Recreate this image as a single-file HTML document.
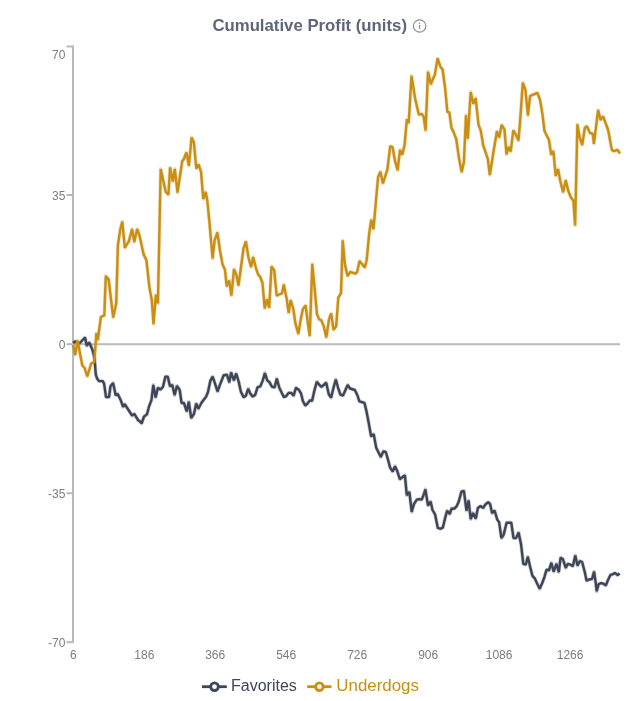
<!DOCTYPE html>
<html><head><meta charset="utf-8"><style>
html,body{margin:0;padding:0;background:#fff;width:640px;height:701px;overflow:hidden}
svg{display:block;will-change:transform}
text{font-family:"Liberation Sans",Arial,sans-serif}
</style></head><body>
<svg width="640" height="701" viewBox="0 0 640 701">
<text x="212.4" y="31" font-size="16.5" font-weight="bold" fill="#5d667a" textLength="194.6" lengthAdjust="spacingAndGlyphs">Cumulative Profit (units)</text>
<circle cx="419.6" cy="26" r="6.2" fill="none" stroke="#8e8e8e" stroke-width="1.15"/>
<rect x="418.9" y="24.9" width="1.3" height="4" fill="#8e8e8e"/>
<rect x="418.9" y="22.6" width="1.3" height="1.3" fill="#8e8e8e"/>
<g stroke="#b8b8b8" stroke-width="2">
<line x1="73" y1="45.5" x2="73" y2="643"/>
<line x1="66.5" y1="46.5" x2="73" y2="46.5"/><line x1="66.5" y1="195" x2="73" y2="195"/><line x1="66.5" y1="344.2" x2="73" y2="344.2"/><line x1="66.5" y1="493.2" x2="73" y2="493.2"/><line x1="66.5" y1="642.2" x2="73" y2="642.2"/>
</g>
<line x1="73" y1="344.2" x2="620" y2="344.2" stroke="#bababa" stroke-width="2"/>
<g font-size="12" fill="#7a7c84">
<text x="65.4" y="59" text-anchor="end">70</text>
<text x="65.4" y="199.8" text-anchor="end">35</text>
<text x="65.4" y="348.8" text-anchor="end">0</text>
<text x="65.4" y="497.8" text-anchor="end">-35</text>
<text x="65.4" y="646.8" text-anchor="end">-70</text>
<text x="73.3" y="658.6" text-anchor="middle">6</text>
<text x="144.3" y="658.6" text-anchor="middle">186</text>
<text x="215.2" y="658.6" text-anchor="middle">366</text>
<text x="286.2" y="658.6" text-anchor="middle">546</text>
<text x="357.2" y="658.6" text-anchor="middle">726</text>
<text x="428.2" y="658.6" text-anchor="middle">906</text>
<text x="499.1" y="658.6" text-anchor="middle">1086</text>
<text x="570.1" y="658.6" text-anchor="middle">1266</text>
</g>
<polyline points="73.3,343.0 75.4,341.3 77.7,343.8 80.1,342.7 85.0,337.5 86.8,345.8 89.2,342.4 90.6,345.5 92.6,350.3 94.5,358.0 95.8,374.7 97.1,378.5 99.0,381.1 102.8,381.1 104.1,383.7 106.0,397.1 109.0,397.1 110.5,386.2 113.1,383.0 115.7,395.2 117.6,393.9 120.8,400.3 123.1,406.8 124.7,404.2 128.5,410.0 132.1,415.7 134.3,413.8 138.1,420.2 139.7,421.1 141.7,423.4 144.0,416.5 145.4,415.6 147.0,414.2 149.1,406.3 151.5,399.8 153.3,384.9 155.6,397.5 157.9,387.7 160.3,389.6 163.0,386.8 165.4,376.6 167.7,376.6 170.0,386.3 172.3,385.0 174.6,395.1 177.0,385.9 179.7,390.0 181.6,403.0 183.9,403.0 186.7,411.4 188.8,401.8 191.2,418.0 194.0,413.8 196.2,403.6 198.4,408.7 201.5,402.7 206.1,396.6 208.0,392.0 210.3,380.9 212.6,376.7 214.9,383.2 217.5,391.5 220.0,384.6 223.7,375.3 227.0,374.8 229.3,382.3 231.1,372.5 233.9,380.4 236.2,373.5 238.6,381.3 240.9,391.8 243.6,397.1 245.9,395.7 248.2,388.8 250.5,393.9 252.8,396.6 255.2,394.8 257.5,387.4 260.3,386.4 262.6,380.9 264.9,373.0 267.2,380.4 269.5,382.3 272.1,386.9 274.6,387.4 276.8,378.6 279.3,387.8 281.6,392.5 283.9,397.1 286.2,396.2 288.6,392.9 291.2,392.9 293.6,395.7 295.9,387.8 298.7,389.7 301.0,393.4 302.8,400.8 305.2,405.5 307.5,403.6 309.8,400.4 312.1,400.8 314.4,390.6 316.8,381.8 319.1,384.6 321.4,386.9 323.7,385.0 326.2,382.7 328.8,394.3 331.1,397.6 333.5,387.8 335.8,379.5 338.1,387.8 340.4,394.6 343.0,395.5 347.7,385.0 350.1,388.5 354.8,390.0 357.3,395.0 359.4,401.4 364.4,402.8 366.5,411.4 368.7,422.8 371.1,436.3 373.7,434.2 376.2,447.7 378.7,452.7 380.8,457.0 383.4,451.3 385.8,452.0 387.9,459.3 390.1,467.6 392.7,471.5 395.0,466.3 397.2,470.8 399.8,479.2 402.3,477.2 404.9,475.3 406.8,495.2 409.4,492.0 411.7,511.9 413.9,504.2 416.8,499.7 419.0,499.1 421.6,499.7 423.5,495.2 425.4,489.4 428.0,505.5 430.6,501.6 432.5,510.0 435.1,514.5 437.8,527.9 440.6,528.8 442.9,527.4 445.2,517.7 447.1,510.7 449.7,514.0 451.7,508.4 454.0,508.9 456.8,506.1 458.9,501.0 461.4,491.7 463.9,490.8 466.5,510.7 468.6,500.5 470.7,519.1 473.0,513.0 475.8,518.6 477.9,507.9 480.5,506.1 483.2,507.9 485.6,504.2 488.2,502.2 490.1,504.1 492.1,513.1 494.6,510.5 497.2,519.5 499.1,522.1 501.4,538.1 503.6,534.9 506.6,522.7 508.8,522.7 511.3,522.7 513.5,538.1 516.1,538.1 518.6,532.4 521.0,543.9 523.3,563.8 525.8,564.5 527.8,556.8 530.2,567.0 532.4,575.8 534.6,578.1 537.0,583.2 539.7,588.8 542.1,583.2 544.4,577.2 546.5,569.8 549.0,570.3 551.3,562.8 553.7,571.6 556.4,563.8 558.8,572.1 560.6,557.7 562.9,559.1 565.7,567.9 567.8,563.8 570.4,564.7 572.9,566.1 575.3,555.4 577.5,565.6 579.9,561.0 582.1,562.0 584.7,571.7 586.6,580.7 589.0,579.5 592.1,578.8 594.1,571.7 595.7,582.7 596.7,591.3 598.6,584.2 600.8,583.1 603.1,583.5 605.9,585.4 608.2,579.5 610.6,574.8 612.5,574.4 614.9,572.9 617.6,575.2 619.6,573.3" fill="none" stroke="#3d4557" stroke-opacity="0.28" stroke-width="3.8" stroke-linejoin="round"/>
<polyline points="73.3,343.0 75.4,341.3 77.7,343.8 80.1,342.7 85.0,337.5 86.8,345.8 89.2,342.4 90.6,345.5 92.6,350.3 94.5,358.0 95.8,374.7 97.1,378.5 99.0,381.1 102.8,381.1 104.1,383.7 106.0,397.1 109.0,397.1 110.5,386.2 113.1,383.0 115.7,395.2 117.6,393.9 120.8,400.3 123.1,406.8 124.7,404.2 128.5,410.0 132.1,415.7 134.3,413.8 138.1,420.2 139.7,421.1 141.7,423.4 144.0,416.5 145.4,415.6 147.0,414.2 149.1,406.3 151.5,399.8 153.3,384.9 155.6,397.5 157.9,387.7 160.3,389.6 163.0,386.8 165.4,376.6 167.7,376.6 170.0,386.3 172.3,385.0 174.6,395.1 177.0,385.9 179.7,390.0 181.6,403.0 183.9,403.0 186.7,411.4 188.8,401.8 191.2,418.0 194.0,413.8 196.2,403.6 198.4,408.7 201.5,402.7 206.1,396.6 208.0,392.0 210.3,380.9 212.6,376.7 214.9,383.2 217.5,391.5 220.0,384.6 223.7,375.3 227.0,374.8 229.3,382.3 231.1,372.5 233.9,380.4 236.2,373.5 238.6,381.3 240.9,391.8 243.6,397.1 245.9,395.7 248.2,388.8 250.5,393.9 252.8,396.6 255.2,394.8 257.5,387.4 260.3,386.4 262.6,380.9 264.9,373.0 267.2,380.4 269.5,382.3 272.1,386.9 274.6,387.4 276.8,378.6 279.3,387.8 281.6,392.5 283.9,397.1 286.2,396.2 288.6,392.9 291.2,392.9 293.6,395.7 295.9,387.8 298.7,389.7 301.0,393.4 302.8,400.8 305.2,405.5 307.5,403.6 309.8,400.4 312.1,400.8 314.4,390.6 316.8,381.8 319.1,384.6 321.4,386.9 323.7,385.0 326.2,382.7 328.8,394.3 331.1,397.6 333.5,387.8 335.8,379.5 338.1,387.8 340.4,394.6 343.0,395.5 347.7,385.0 350.1,388.5 354.8,390.0 357.3,395.0 359.4,401.4 364.4,402.8 366.5,411.4 368.7,422.8 371.1,436.3 373.7,434.2 376.2,447.7 378.7,452.7 380.8,457.0 383.4,451.3 385.8,452.0 387.9,459.3 390.1,467.6 392.7,471.5 395.0,466.3 397.2,470.8 399.8,479.2 402.3,477.2 404.9,475.3 406.8,495.2 409.4,492.0 411.7,511.9 413.9,504.2 416.8,499.7 419.0,499.1 421.6,499.7 423.5,495.2 425.4,489.4 428.0,505.5 430.6,501.6 432.5,510.0 435.1,514.5 437.8,527.9 440.6,528.8 442.9,527.4 445.2,517.7 447.1,510.7 449.7,514.0 451.7,508.4 454.0,508.9 456.8,506.1 458.9,501.0 461.4,491.7 463.9,490.8 466.5,510.7 468.6,500.5 470.7,519.1 473.0,513.0 475.8,518.6 477.9,507.9 480.5,506.1 483.2,507.9 485.6,504.2 488.2,502.2 490.1,504.1 492.1,513.1 494.6,510.5 497.2,519.5 499.1,522.1 501.4,538.1 503.6,534.9 506.6,522.7 508.8,522.7 511.3,522.7 513.5,538.1 516.1,538.1 518.6,532.4 521.0,543.9 523.3,563.8 525.8,564.5 527.8,556.8 530.2,567.0 532.4,575.8 534.6,578.1 537.0,583.2 539.7,588.8 542.1,583.2 544.4,577.2 546.5,569.8 549.0,570.3 551.3,562.8 553.7,571.6 556.4,563.8 558.8,572.1 560.6,557.7 562.9,559.1 565.7,567.9 567.8,563.8 570.4,564.7 572.9,566.1 575.3,555.4 577.5,565.6 579.9,561.0 582.1,562.0 584.7,571.7 586.6,580.7 589.0,579.5 592.1,578.8 594.1,571.7 595.7,582.7 596.7,591.3 598.6,584.2 600.8,583.1 603.1,583.5 605.9,585.4 608.2,579.5 610.6,574.8 612.5,574.4 614.9,572.9 617.6,575.2 619.6,573.3" fill="none" stroke="#3d4557" stroke-width="2.4" stroke-linejoin="bevel"/>
<polyline points="73.2,345.0 75.2,355.0 77.6,340.5 80.5,356.0 82.3,365.5 84.6,368.0 87.3,376.4 91.2,363.5 94.3,362.0 96.4,333.2 97.8,340.2 100.9,317.0 102.7,316.0 104.3,315.5 105.8,276.0 108.6,279.5 113.2,317.5 116.2,303.6 117.9,245.3 120.2,229.8 122.3,221.6 124.8,247.8 128.9,241.2 132.1,229.0 134.3,242.0 137.1,229.0 139.5,235.5 143.6,254.4 146.4,260.1 149.4,287.2 151.8,300.3 153.5,324.1 155.9,294.6 157.9,303.6 160.7,168.9 165.7,191.7 168.4,194.8 170.1,167.4 172.8,181.5 174.8,168.9 177.5,192.5 182.2,161.1 183.7,159.5 186.4,152.5 188.9,165.8 191.6,137.4 193.9,142.5 196.3,168.6 198.6,164.5 201.0,171.6 203.3,199.0 205.7,192.0 207.3,200.6 209.6,224.0 212.6,258.5 214.6,240.7 217.4,232.5 220.0,250.7 222.5,264.2 225.0,269.9 226.7,286.3 229.2,280.6 231.4,295.6 234.0,269.2 236.4,274.9 238.5,285.6 243.5,248.5 245.9,241.4 248.5,257.8 251.1,267.1 253.1,257.1 255.9,267.8 258.1,274.5 260.2,277.0 262.5,283.0 264.7,308.4 267.0,299.4 269.2,307.6 271.5,266.5 274.2,270.2 276.7,295.7 279.7,294.2 282.0,293.4 283.8,284.4 286.5,297.9 288.7,312.9 290.6,300.2 293.2,308.4 295.4,323.4 298.4,333.9 300.7,319.6 302.9,309.1 305.6,305.4 307.7,321.9 309.7,336.0 312.3,263.8 314.7,289.4 317.0,314.1 319.2,319.4 321.2,320.1 323.7,326.1 326.3,337.4 329.0,319.4 331.2,313.4 333.5,329.9 336.2,326.1 338.3,297.7 341.0,293.2 342.7,240.3 344.9,264.3 347.5,276.0 350.2,272.0 353.0,272.8 355.5,273.7 357.2,271.8 359.5,261.0 362.2,264.2 364.8,267.5 366.7,260.0 369.2,233.5 371.3,219.8 373.5,229.2 376.1,199.2 378.1,177.0 380.4,171.8 382.9,183.5 387.4,169.4 390.2,146.2 392.6,147.2 394.8,160.1 397.6,170.3 400.0,150.0 402.3,154.6 404.5,145.3 406.9,119.3 408.7,123.1 411.5,75.8 415.2,98.9 418.9,114.7 421.7,113.8 423.6,116.6 425.6,130.6 428.0,71.7 430.8,84.3 433.0,78.7 434.8,75.0 437.6,58.3 440.4,66.7 442.6,69.5 445.0,87.1 447.4,112.1 449.3,112.1 451.5,127.9 453.4,131.6 456.2,139.0 458.9,157.6 461.7,172.2 463.9,162.2 466.0,115.2 467.8,139.0 469.1,117.0 470.7,92.0 473.3,103.7 475.7,98.2 478.5,124.9 480.7,130.4 483.2,145.3 485.9,153.2 487.9,159.4 489.8,175.1 493.0,154.7 496.9,131.2 499.2,137.5 501.6,124.9 504.5,129.6 506.5,154.3 508.6,146.9 510.7,151.6 513.3,130.4 515.7,134.3 518.5,140.6 520.4,117.1 522.8,82.6 525.4,89.6 527.9,115.5 530.1,95.9 532.2,95.1 537.3,92.8 540.0,99.8 542.4,113.9 544.5,131.0 547.0,136.0 549.0,140.0 551.1,154.5 553.4,151.1 555.7,175.9 558.0,169.1 560.5,181.9 563.1,192.2 565.7,180.2 568.2,190.5 570.8,197.3 573.4,200.7 575.1,225.5 577.4,124.4 579.7,137.4 582.2,145.0 584.8,128.0 586.9,126.3 590.0,133.0 592.7,133.7 593.9,143.8 598.1,110.0 600.6,120.0 603.1,116.3 608.1,130.0 611.9,150.0 613.8,151.2 617.5,149.8 620.0,153.5" fill="none" stroke="#c98e12" stroke-opacity="0.28" stroke-width="3.8" stroke-linejoin="round"/>
<polyline points="73.2,345.0 75.2,355.0 77.6,340.5 80.5,356.0 82.3,365.5 84.6,368.0 87.3,376.4 91.2,363.5 94.3,362.0 96.4,333.2 97.8,340.2 100.9,317.0 102.7,316.0 104.3,315.5 105.8,276.0 108.6,279.5 113.2,317.5 116.2,303.6 117.9,245.3 120.2,229.8 122.3,221.6 124.8,247.8 128.9,241.2 132.1,229.0 134.3,242.0 137.1,229.0 139.5,235.5 143.6,254.4 146.4,260.1 149.4,287.2 151.8,300.3 153.5,324.1 155.9,294.6 157.9,303.6 160.7,168.9 165.7,191.7 168.4,194.8 170.1,167.4 172.8,181.5 174.8,168.9 177.5,192.5 182.2,161.1 183.7,159.5 186.4,152.5 188.9,165.8 191.6,137.4 193.9,142.5 196.3,168.6 198.6,164.5 201.0,171.6 203.3,199.0 205.7,192.0 207.3,200.6 209.6,224.0 212.6,258.5 214.6,240.7 217.4,232.5 220.0,250.7 222.5,264.2 225.0,269.9 226.7,286.3 229.2,280.6 231.4,295.6 234.0,269.2 236.4,274.9 238.5,285.6 243.5,248.5 245.9,241.4 248.5,257.8 251.1,267.1 253.1,257.1 255.9,267.8 258.1,274.5 260.2,277.0 262.5,283.0 264.7,308.4 267.0,299.4 269.2,307.6 271.5,266.5 274.2,270.2 276.7,295.7 279.7,294.2 282.0,293.4 283.8,284.4 286.5,297.9 288.7,312.9 290.6,300.2 293.2,308.4 295.4,323.4 298.4,333.9 300.7,319.6 302.9,309.1 305.6,305.4 307.7,321.9 309.7,336.0 312.3,263.8 314.7,289.4 317.0,314.1 319.2,319.4 321.2,320.1 323.7,326.1 326.3,337.4 329.0,319.4 331.2,313.4 333.5,329.9 336.2,326.1 338.3,297.7 341.0,293.2 342.7,240.3 344.9,264.3 347.5,276.0 350.2,272.0 353.0,272.8 355.5,273.7 357.2,271.8 359.5,261.0 362.2,264.2 364.8,267.5 366.7,260.0 369.2,233.5 371.3,219.8 373.5,229.2 376.1,199.2 378.1,177.0 380.4,171.8 382.9,183.5 387.4,169.4 390.2,146.2 392.6,147.2 394.8,160.1 397.6,170.3 400.0,150.0 402.3,154.6 404.5,145.3 406.9,119.3 408.7,123.1 411.5,75.8 415.2,98.9 418.9,114.7 421.7,113.8 423.6,116.6 425.6,130.6 428.0,71.7 430.8,84.3 433.0,78.7 434.8,75.0 437.6,58.3 440.4,66.7 442.6,69.5 445.0,87.1 447.4,112.1 449.3,112.1 451.5,127.9 453.4,131.6 456.2,139.0 458.9,157.6 461.7,172.2 463.9,162.2 466.0,115.2 467.8,139.0 469.1,117.0 470.7,92.0 473.3,103.7 475.7,98.2 478.5,124.9 480.7,130.4 483.2,145.3 485.9,153.2 487.9,159.4 489.8,175.1 493.0,154.7 496.9,131.2 499.2,137.5 501.6,124.9 504.5,129.6 506.5,154.3 508.6,146.9 510.7,151.6 513.3,130.4 515.7,134.3 518.5,140.6 520.4,117.1 522.8,82.6 525.4,89.6 527.9,115.5 530.1,95.9 532.2,95.1 537.3,92.8 540.0,99.8 542.4,113.9 544.5,131.0 547.0,136.0 549.0,140.0 551.1,154.5 553.4,151.1 555.7,175.9 558.0,169.1 560.5,181.9 563.1,192.2 565.7,180.2 568.2,190.5 570.8,197.3 573.4,200.7 575.1,225.5 577.4,124.4 579.7,137.4 582.2,145.0 584.8,128.0 586.9,126.3 590.0,133.0 592.7,133.7 593.9,143.8 598.1,110.0 600.6,120.0 603.1,116.3 608.1,130.0 611.9,150.0 613.8,151.2 617.5,149.8 620.0,153.5" fill="none" stroke="#c98e12" stroke-width="2.4" stroke-linejoin="bevel"/>
<g>
<line x1="202" y1="686.7" x2="226.8" y2="686.7" stroke="#3d4557" stroke-width="2.8"/>
<circle cx="214.5" cy="686.7" r="3.8" fill="#fff" stroke="#3d4557" stroke-width="2.8"/>
<text x="231" y="691" font-size="16" fill="#3d4557">Favorites</text>
<line x1="307.2" y1="686.7" x2="331.5" y2="686.7" stroke="#c98e12" stroke-width="2.8"/>
<circle cx="319.4" cy="686.7" r="3.8" fill="#fff" stroke="#c98e12" stroke-width="2.8"/>
<text x="336.3" y="691" font-size="16" fill="#c98e12" textLength="82.6" lengthAdjust="spacingAndGlyphs">Underdogs</text>
</g>
</svg>
</body></html>
